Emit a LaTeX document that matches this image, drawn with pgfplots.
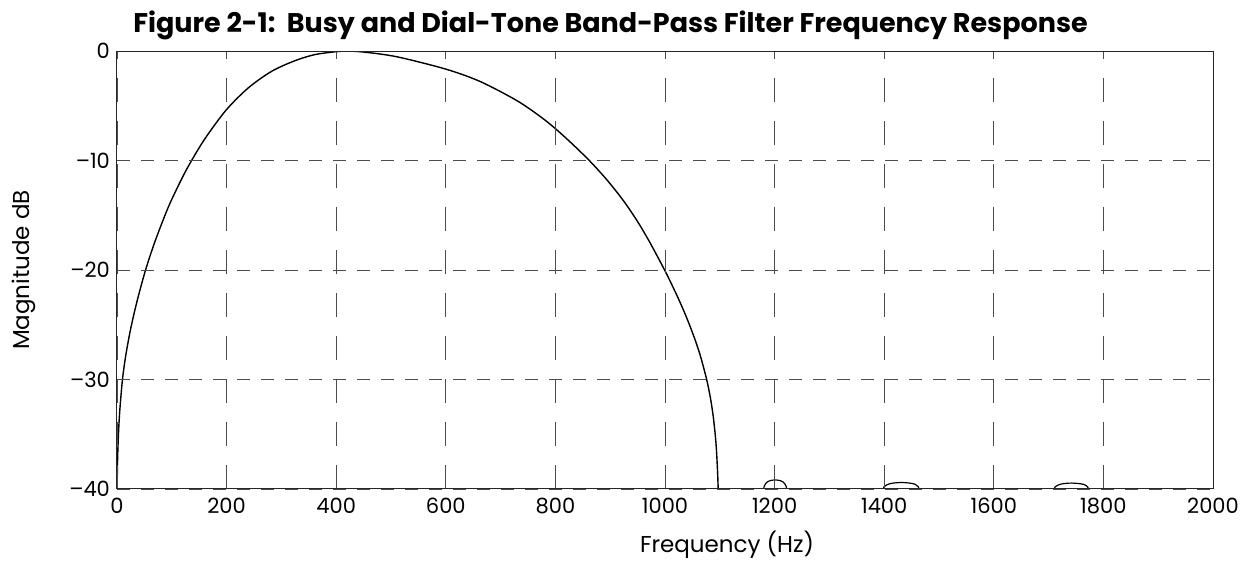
\documentclass[border=0pt]{standalone}
\usepackage{fontspec}
\setmainfont{Poppins}
\usepackage{pgfplots}
\pgfplotsset{compat=1.18}
\usetikzlibrary{calc}
\begin{document}
\begin{tikzpicture}
\begin{axis}[
  name=ax,
  scale only axis,
  width=548pt, height=219pt,
  xmin=0, xmax=2000, ymin=-40, ymax=0,
  xtick={0,200,...,2000},
  ytick={-40,-30,-20,-10,0},
  yticklabels={–40,–30,–20,–10,0},
  xticklabel style={/pgf/number format/.cd, 1000 sep={}, assume math mode=true},
  /pgf/number format/assume math mode=true,
  tick label style={font=\fontsize{10.5}{12}\selectfont},
  tick style={draw=none},
  xticklabel shift=1pt,
  grid=major,
  major x grid style={draw=black!70, line width=0.4pt, dash pattern=on 12pt off 9.5pt},
  major y grid style={draw=black!70, line width=0.4pt, dash pattern=on 6.5pt off 5.5pt},
  axis line style={line width=0.5pt, black!85},
  axis on top,
  clip=true,
]
\addplot[black, line width=0.7pt, smooth] coordinates {
(0,-42) (0.3,-40) (0.8,-37.8) (2.4,-35.3) (5,-32.9) (10,-30) (16,-27.8) (24,-25.6) (31.5,-23.9) (38.9,-22.4) (52.3,-19.97) (69.3,-17.4) (93.7,-14.25) (118,-11.68) (135,-10.1) (160.6,-8.0) (199,-5.4) (239.6,-3.37) (282,-1.86) (325,-0.88) (361,-0.33) (398,-0.07) (415,0)
(449,-0.09) (510,-0.52) (599,-1.64) (662,-2.77) (729,-4.51) (772,-5.97) (799,-7.05) (830,-8.45) (863,-10.06) (894,-11.77) (924,-13.66) (950,-15.58) (973,-17.54) (999,-19.98) (1013,-21.40) (1027,-22.90) (1041,-24.54) (1055,-26.39) (1065,-27.92) (1076,-30.0) (1083,-31.72) (1088,-33.37) (1092,-35.22) (1094,-36.55) (1096,-38.49) (1097,-40.0) (1098,-42.5)
};
\addplot[black, line width=0.6pt, smooth] coordinates {
(1179.5,-40.3) (1181,-39.75) (1186,-39.38) (1193,-39.22) (1201,-39.18) (1209,-39.22) (1216,-39.38) (1221,-39.75) (1222.5,-40.3)
};
\addplot[black, line width=0.6pt, smooth] coordinates {
(1397,-40.3) (1400,-39.78) (1410,-39.52) (1422,-39.43) (1433,-39.41) (1445,-39.45) (1456,-39.56) (1462,-39.78) (1465,-40.3)
};
\addplot[black, line width=0.6pt, smooth] coordinates {
(1709,-40.3) (1712,-39.8) (1722,-39.56) (1733,-39.48) (1743,-39.46) (1754,-39.5) (1764,-39.58) (1771,-39.8) (1775,-40.3)
};
\end{axis}
\node[anchor=base west, font=\bfseries\fontsize{13.5}{16}\selectfont, inner sep=0pt]
  at ($(ax.north west)+(8pt,9.5pt)$) {Figure 2-1:\ \ Busy and Dial-Tone Band-Pass Filter Frequency Response};
\node[anchor=base, font=\fontsize{11.5}{14}\selectfont, inner sep=0pt]
  at ($(ax.south west)+(305pt,-32pt)$) {Frequency (Hz)};
\node[anchor=base, rotate=90, font=\fontsize{11.5}{14}\selectfont, inner sep=0pt]
  at ($(ax.south west)+(-44pt,109.5pt)$) {Magnitude dB};
\pgfresetboundingbox
\path[use as bounding box] ($(ax.south west)+(-58.5pt,-38.5pt)$) rectangle ($(ax.north east)+(13.5pt,25.5pt)$);
\end{tikzpicture}
\end{document}
